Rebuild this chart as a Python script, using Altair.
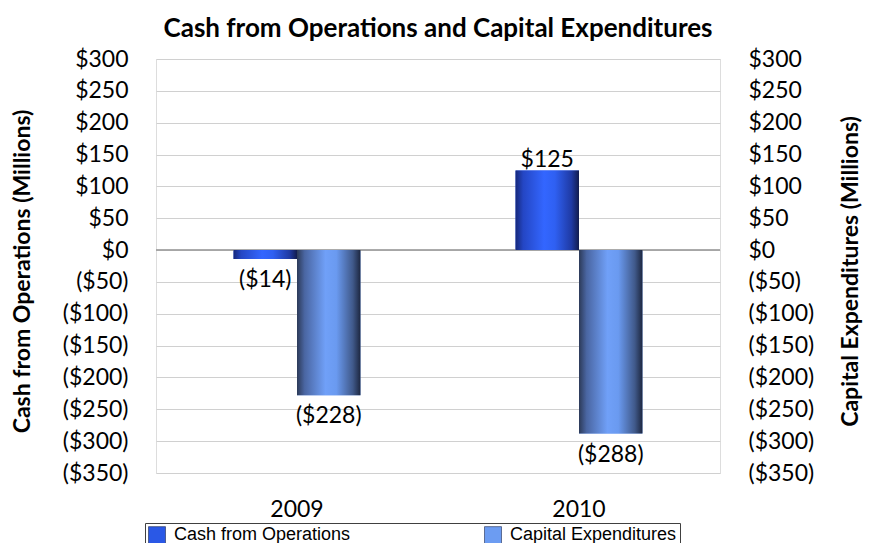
import altair as alt
import pandas as pd

# ---- data ----
years = ["2009", "2010"]
series_names = ["Cash from Operations", "Capital Expenditures"]
cash_from_operations = [-14, 125]
capital_expenditures = [-228, -288]
y_tick_values = [300, 250, 200, 150, 100, 50, 0, -50, -100, -150, -200, -250, -300, -350]

rows = []
for i, yr in enumerate(years):
    rows.append({"year": yr, "series": series_names[0], "value": cash_from_operations[i]})
    rows.append({"year": yr, "series": series_names[1], "value": capital_expenditures[i]})
df = pd.DataFrame(rows)

FONT = "Lato"
LEGEND_FONT = "Liberation Sans"
money_expr = ("datum.value < 0 ? '($' + format(-datum.value, 'd') + ')' "
              ": '$' + format(datum.value, 'd')")

x_enc = alt.X(
    "year:N",
    sort=years,
    scale=alt.Scale(domain=years, paddingInner=0.55, paddingOuter=0.275),
    axis=alt.Axis(title=None, domain=False, ticks=False, labelFont=FONT,
                  labelFontSize=23, labelPadding=25, labelColor="black",
                  labelAngle=0),
)
xo_enc = alt.XOffset("series:N",
                     scale=alt.Scale(domain=series_names, paddingInner=0, paddingOuter=0))
y_scale = alt.Scale(domain=[-350, 300], nice=False, zero=False)

left_axis = alt.Axis(
    orient="left", values=y_tick_values, labelExpr=money_expr,
    labelFont=FONT, labelFontSize=23, labelColor="black", labelPadding=28,
    ticks=False, domain=False, grid=True, gridColor="#d0d0d0",
    title="Cash from Operations (Millions)", titleFont=FONT, titleFontSize=23,
    titleFontWeight="bold", titleColor="black", titleAngle=270,
    titleBaseline="middle", titleX=-134, titleY=212,
)
right_axis = alt.Axis(
    orient="right", values=y_tick_values, labelExpr=money_expr,
    labelFont=FONT, labelFontSize=23, labelColor="black", labelPadding=28,
    ticks=False, domain=False, grid=False,
    title="Capital Expenditures (Millions)", titleFont=FONT, titleFontSize=23,
    titleFontWeight="bold", titleColor="black", titleAngle=270,
    titleBaseline="middle", titleX=130, titleY=212,
)

grad_cfo = alt.LinearGradient(
    gradient="linear", x1=0, x2=1, y1=0, y2=0,
    stops=[
        alt.GradientStop(color="#16287a", offset=0),
        alt.GradientStop(color="#2446c4", offset=0.12),
        alt.GradientStop(color="#3366ff", offset=0.45),
        alt.GradientStop(color="#2f60f2", offset=0.62),
        alt.GradientStop(color="#1f3aa4", offset=0.88),
        alt.GradientStop(color="#121c4e", offset=1),
    ],
)
grad_capex = alt.LinearGradient(
    gradient="linear", x1=0, x2=1, y1=0, y2=0,
    stops=[
        alt.GradientStop(color="#2c3a58", offset=0),
        alt.GradientStop(color="#4a66a2", offset=0.12),
        alt.GradientStop(color="#70a0f8", offset=0.45),
        alt.GradientStop(color="#6a9af0", offset=0.62),
        alt.GradientStop(color="#40598a", offset=0.88),
        alt.GradientStop(color="#1d2740", offset=1),
    ],
)

base = alt.Chart(df).transform_calculate(label=money_expr)

# solid bars: carry the left axis and the legend
solid_bars = base.mark_bar().encode(
    x=x_enc,
    xOffset=xo_enc,
    y=alt.Y("value:Q", scale=y_scale, axis=left_axis),
    color=alt.Color(
        "series:N",
        scale=alt.Scale(domain=series_names, range=["#2a58e6", "#6c9cf2"]),
        legend=alt.Legend(
            orient="none", legendX=-11, legendY=464, direction="horizontal",
            title=None, strokeColor="#404040", padding=3, symbolType="square",
            symbolSize=289, symbolStrokeColor="#1e2a50", symbolStrokeWidth=0.6,
            symbolOpacity=1, labelFont=LEGEND_FONT, labelFontSize=18,
            labelLimit=0, labelColor="black", labelOffset=8, columnPadding=132,
        ),
    ),
)

zero_rule = alt.Chart(df).mark_rule(color="#a6a6a6", strokeWidth=1.3).encode(
    y=alt.YDatum(0, type="quantitative", scale=y_scale, axis=None)
)

cfo_bars = base.transform_filter(alt.datum.series == series_names[0]).mark_bar(
    color=grad_cfo
).encode(
    x=x_enc, xOffset=xo_enc,
    y=alt.Y("value:Q", scale=y_scale, axis=right_axis),
)
capex_bars = base.transform_filter(alt.datum.series == series_names[1]).mark_bar(
    color=grad_capex
).encode(
    x=x_enc, xOffset=xo_enc,
    y=alt.Y("value:Q", scale=y_scale, axis=None),
)

text_props = dict(font=FONT, fontSize=23, color="black", baseline="middle")
neg_labels = base.transform_filter("datum.value < 0").mark_text(dy=21, **text_props).encode(
    x=x_enc, xOffset=xo_enc,
    y=alt.Y("value:Q", scale=y_scale, axis=None),
    text="label:N",
)
pos_labels = base.transform_filter("datum.value >= 0").mark_text(dy=-10, **text_props).encode(
    x=x_enc, xOffset=xo_enc,
    y=alt.Y("value:Q", scale=y_scale, axis=None),
    text="label:N",
)

chart = (
    alt.layer(solid_bars, zero_rule, cfo_bars, capex_bars, neg_labels, pos_labels)
    .resolve_scale(y="shared")
    .resolve_axis(y="independent")
    .properties(
        width=564,
        height=414,
        padding={"left": 148, "top": 51, "right": 149, "bottom": 70},
        autosize=alt.AutoSizeParams(type="none"),
        title=alt.TitleParams(
            "Cash from Operations and Capital Expenditures",
            anchor="middle", font=FONT, fontSize=26,
            fontWeight="bold", color="black", offset=6,
        ),
    )
    .configure_view(stroke="#c4c4c4", strokeWidth=1)
    .configure(background="white")
)

chart.save("out.html", embed_options={"renderer": "svg", "actions": False})
